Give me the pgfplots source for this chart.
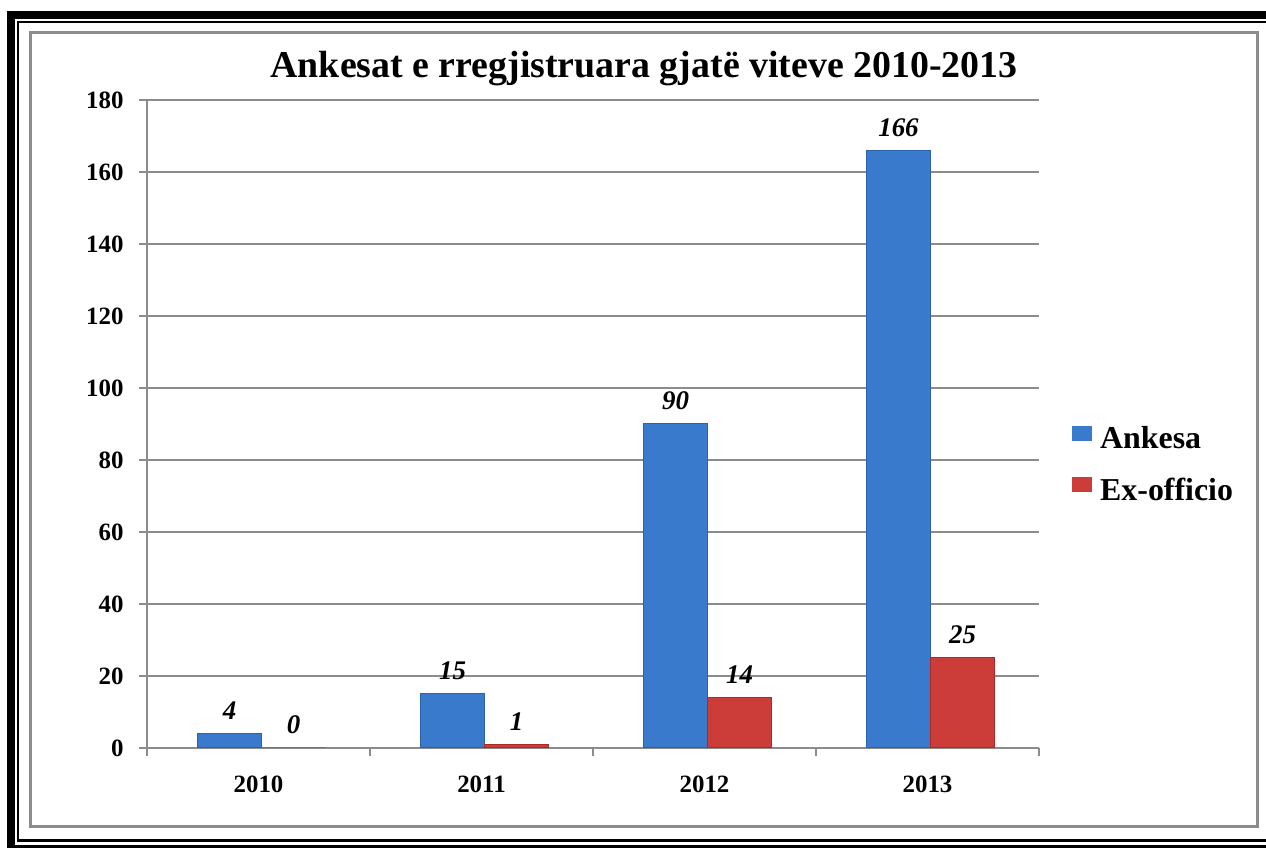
\documentclass[border=0pt]{standalone}
\usepackage{fontspec}
\setmainfont{Liberation Serif}
\usepackage{pgfplots}
\pgfplotsset{compat=1.18}
\definecolor{bluemid}{RGB}{58,122,204}
\definecolor{blueedge}{RGB}{44,98,172}
\definecolor{redmid}{RGB}{204,60,56}
\definecolor{rededge}{RGB}{170,42,40}
\definecolor{axgray}{RGB}{140,140,140}
\begin{document}
\begin{tikzpicture}[x=1bp,y=1bp]
\useasboundingbox (0,0) rectangle (1266,848);
\clip (0,0) rectangle (1266,848);
\draw[line width=8bp] (11,-1) rectangle (1275,833);
\draw[line width=2.5bp] (18,7.5) rectangle (1270,826);
\draw[axgray, line width=3bp] (30,21) rectangle (1257,815);
\node[anchor=base, font=\fontsize{38}{44}\selectfont\bfseries] at (644,770) {Ankesat e rregjistruara gjatë viteve 2010-2013};
\begin{axis}[
  at={(147bp,100bp)}, anchor=south west,
  scale only axis, width=892bp, height=648bp,
  xmin=-0.5, xmax=3.5, ymin=0, ymax=180,
  axis lines*=left,
  axis line style={axgray, line width=2.5bp},
  /pgf/number format/assume math mode=true,
  ytick={0,20,...,180},
  ymajorgrids, grid style={axgray, line width=2bp},
  xtick={-0.5,0.5,1.5,2.5,3.5},
  x tick label as interval,
  xticklabels={2010,2011,2012,2013},
  tick align=outside, major tick length=8bp,
  tick style={axgray, line width=2bp},
  ticklabel style={font=\fontsize{25}{30}\selectfont\bfseries},
  xticklabel style={yshift=-16bp},
  yticklabel style={xshift=-12bp},
  legend style={at={(axis description cs:1,0.5)}, anchor=west, xshift=30bp, yshift=-40bp,
    draw=none, fill=none, font=\fontsize{32}{38}\selectfont\bfseries, row sep=24bp},
  legend cell align=left,
  nodes near coords,
  every node near coord/.append style={font=\fontsize{27}{31}\selectfont\bfseries\itshape, anchor=base, yshift=14bp, text=black},
]
\addplot[ybar, bar width=64bp, bar shift=-29bp, draw=blueedge, line width=1bp, fill=bluemid,
  every node near coord/.append style={xshift=-29bp},
  legend image code/.code={\fill[bluemid] (0bp,-2bp) rectangle (19bp,12bp); \path (25bp,0bp);}]
  coordinates {(0,4) (1,15) (2,90) (3,166)};
\addplot[ybar, bar width=64bp, bar shift=35bp, draw=rededge, line width=1bp, fill=redmid,
  every node near coord/.append style={xshift=35bp},
  legend image code/.code={\fill[redmid] (0bp,-2bp) rectangle (19bp,12bp); \path (25bp,0bp);}]
  coordinates {(0,0) (1,1) (2,14) (3,25)};
\legend{Ankesa, Ex-officio}
\end{axis}
\end{tikzpicture}
\end{document}
